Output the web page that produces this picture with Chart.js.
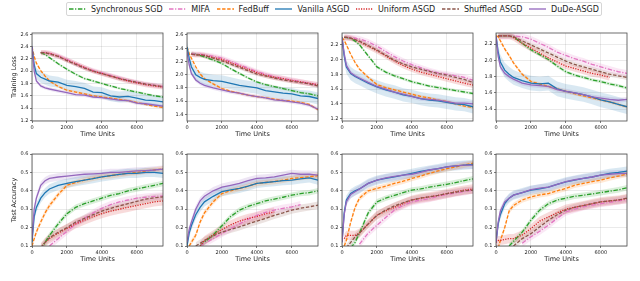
<!DOCTYPE html>
<html><head><meta charset="utf-8">
<script src="https://cdn.jsdelivr.net/npm/chart.js@4.4.1/dist/chart.umd.min.js"></script>
<style>
body{margin:0;background:#fff;width:640px;height:281px;overflow:hidden;position:relative;font-family:"DejaVu Sans",sans-serif;}
canvas{position:absolute;}
#legend{position:absolute;left:66px;top:2px;width:536px;height:14px;border:1px solid #d6d6d6;border-radius:2px;box-sizing:border-box;display:flex;justify-content:space-between;align-items:center;padding:0 2px;font-size:8px;color:#222;}
.item{display:flex;align-items:center;white-space:nowrap}
.item svg{margin-right:5px}
</style></head><body>
<div id="legend"></div>
<script>
// ---------- data ----------
const timeUnits = [0,125,250,500,750,1000,1500,2000,2500,3000,3500,4000,4500,5000,5500,6000,6500,7000,7500];
const methods = ['Synchronous SGD','MIFA','FedBuff','Vanilla ASGD','Uniform ASGD','Shuffled ASGD','DuDe-ASGD'];
const xTickValues = [0,2000,4000,6000];
const lossTicks1 = [1.2,1.4,1.6,1.8,2.0,2.2,2.4,2.6];
const lossTicks2 = [1.4,1.6,1.8,2.0,2.2,2.4,2.6];
const lossTicks3 = [1.2,1.4,1.6,1.8,2.0,2.2];
const lossTicks4 = [1.4,1.6,1.8,2.0,2.2];
const accTicks = [0.1,0.2,0.3,0.4,0.5,0.6];
const lossLimits = [[1.19,2.62],[1.30,2.63],[1.167,2.36],[1.255,2.336]];
const accLimits = [0.1,0.6];

// rows: Synchronous SGD, MIFA, FedBuff, Vanilla ASGD, Uniform ASGD, Shuffled ASGD, DuDe-ASGD
const loss1 = [
 [null,null,null,2.30,2.27,2.22,2.12,2.03,1.95,1.88,1.84,1.80,1.76,1.72,1.69,1.66,1.63,1.60,1.58],
 [null,null,null,2.30,2.30,2.29,2.25,2.19,2.12,2.06,2.01,1.97,1.93,1.89,1.85,1.82,1.79,1.77,1.75],
 [2.40,2.24,2.13,2.01,1.92,1.84,1.75,1.69,1.66,1.63,1.60,1.58,1.56,1.54,1.52,1.49,1.46,1.43,1.41],
 [2.40,2.10,1.96,1.90,1.87,1.84,1.82,1.77,1.75,1.72,1.66,1.65,1.60,1.58,1.59,1.56,1.53,1.52,1.50],
 [null,null,null,2.30,2.30,2.29,2.24,2.18,2.12,2.06,2.00,1.96,1.92,1.88,1.84,1.81,1.78,1.76,1.74],
 [null,null,null,2.30,2.30,2.28,2.24,2.17,2.11,2.05,2.00,1.96,1.92,1.88,1.85,1.82,1.79,1.77,1.75],
 [2.40,2.00,1.84,1.76,1.73,1.71,1.68,1.65,1.62,1.61,1.58,1.57,1.55,1.53,1.52,1.48,1.47,1.45,1.43]
];
const loss2 = [
 [null,null,2.32,2.31,2.29,2.27,2.22,2.17,2.09,2.02,1.95,1.89,1.85,1.82,1.79,1.76,1.73,1.71,1.68],
 [null,null,2.32,2.31,2.31,2.30,2.28,2.25,2.20,2.15,2.10,2.045,2.01,1.97,1.945,1.92,1.895,1.87,1.845],
 [2.42,2.32,2.25,2.12,2.01,1.94,1.86,1.79,1.75,1.72,1.69,1.67,1.65,1.63,1.61,1.60,1.58,1.55,1.47],
 [2.42,2.25,2.12,2.00,1.96,1.93,1.91,1.90,1.87,1.84,1.82,1.80,1.76,1.74,1.72,1.71,1.68,1.67,1.64],
 [null,null,2.31,2.30,2.30,2.29,2.26,2.23,2.18,2.13,2.08,2.03,1.99,1.96,1.94,1.91,1.89,1.87,1.85],
 [null,null,2.31,2.30,2.30,2.29,2.25,2.21,2.16,2.11,2.06,2.01,1.98,1.95,1.92,1.90,1.88,1.86,1.83],
 [2.35,2.15,2.02,1.92,1.87,1.84,1.80,1.77,1.74,1.72,1.69,1.67,1.65,1.62,1.61,1.59,1.57,1.54,1.48]
];
const loss3 = [
 [null,2.30,2.30,2.29,2.25,2.20,2.05,1.90,1.83,1.78,1.74,1.70,1.67,1.64,1.62,1.60,1.58,1.56,1.54],
 [null,2.30,2.30,2.30,2.29,2.28,2.24,2.18,2.11,2.04,1.98,1.93,1.89,1.85,1.82,1.80,1.78,1.76,1.72],
 [2.30,2.26,2.20,2.07,1.96,1.87,1.76,1.66,1.62,1.59,1.56,1.53,1.50,1.48,1.45,1.43,1.40,1.37,1.35],
 [2.30,2.05,1.90,1.81,1.77,1.74,1.68,1.63,1.59,1.56,1.52,1.50,1.47,1.45,1.44,1.42,1.40,1.39,1.36],
 [null,2.30,2.30,2.29,2.27,2.24,2.18,2.12,2.05,1.98,1.92,1.87,1.83,1.80,1.77,1.74,1.71,1.68,1.655],
 [null,2.30,2.30,2.29,2.27,2.25,2.19,2.13,2.06,1.99,1.94,1.90,1.87,1.84,1.81,1.79,1.76,1.73,1.69],
 [2.30,2.08,1.92,1.82,1.78,1.75,1.69,1.635,1.60,1.56,1.53,1.50,1.47,1.46,1.45,1.43,1.41,1.41,1.40]
];
const loss4 = [
 [null,2.30,2.30,2.30,2.30,2.29,2.21,2.13,2.07,2.01,1.93,1.86,1.82,1.79,1.76,1.74,1.71,1.69,1.66],
 [null,2.30,2.30,2.30,2.30,2.30,2.29,2.26,2.21,2.16,2.10,2.06,2.02,1.99,1.95,1.92,1.89,1.86,1.84],
 [2.30,2.29,2.24,2.14,2.06,1.97,1.83,1.74,1.71,1.68,1.65,1.62,1.59,1.565,1.54,1.515,1.49,1.46,1.425],
 [2.30,2.10,1.98,1.88,1.83,1.79,1.75,1.72,1.71,1.72,1.65,1.62,1.60,1.58,1.55,1.515,1.49,1.46,1.43],
 [null,2.30,2.30,2.30,2.30,2.28,2.21,2.15,2.09,2.03,1.98,1.93,1.90,1.87,1.84,1.82,1.79,null,null],
 [null,2.30,2.30,2.30,2.30,2.29,2.24,2.19,2.14,2.09,2.04,1.99,1.95,1.92,1.89,1.86,1.83,1.81,1.79],
 [2.30,2.05,1.92,1.84,1.80,1.77,1.72,1.70,1.69,1.68,1.64,1.62,1.60,1.58,1.55,1.535,1.52,1.51,1.52]
];
const acc1 = [
 [null,null,null,0.08,0.12,0.158,0.22,0.276,0.31,0.33,0.345,0.36,0.375,0.385,0.40,0.41,0.42,0.43,0.44],
 [null,null,null,null,null,0.10,0.14,0.18,0.22,0.25,0.28,0.305,0.325,0.34,0.35,0.36,0.365,0.37,0.372],
 [0.10,0.14,0.176,0.23,0.28,0.32,0.38,0.43,0.445,0.458,0.468,0.476,0.482,0.489,0.495,0.50,0.507,0.513,0.52],
 [0.12,0.26,0.31,0.36,0.39,0.41,0.43,0.44,0.45,0.458,0.466,0.476,0.482,0.489,0.495,0.495,0.50,0.50,0.495],
 [null,null,null,0.09,0.12,0.14,0.17,0.195,0.22,0.24,0.26,0.276,0.29,0.30,0.31,0.32,0.33,0.34,0.345],
 [null,null,null,0.09,0.12,0.145,0.175,0.20,0.23,0.25,0.27,0.29,0.305,0.318,0.33,0.343,0.355,0.362,0.367],
 [0.14,0.30,0.36,0.43,0.455,0.467,0.475,0.48,0.485,0.49,0.492,0.495,0.50,0.50,0.504,0.508,0.51,0.513,0.518]
];
const acc2 = [
 [null,null,null,null,0.10,0.12,0.16,0.21,0.26,0.295,0.315,0.33,0.345,0.355,0.365,0.376,0.385,0.39,0.40],
 [null,null,null,null,0.10,0.115,0.14,0.167,0.195,0.22,0.245,0.267,0.283,0.295,0.305,0.313,0.325,null,null],
 [null,0.10,0.12,0.158,0.23,0.28,0.34,0.385,0.40,0.413,0.425,0.44,0.445,0.45,0.458,0.467,0.472,0.476,0.482],
 [0.10,0.17,0.21,0.27,0.31,0.34,0.37,0.395,0.405,0.413,0.425,0.44,0.445,0.45,0.455,0.458,0.465,0.47,0.458],
 [null,null,null,null,0.10,0.13,0.16,0.19,0.215,0.235,0.25,0.26,0.275,0.285,null,null,null,null,null],
 [null,null,null,0.10,0.115,0.13,0.155,0.176,0.19,0.204,0.22,0.235,0.25,0.267,0.28,0.295,0.305,0.313,0.322],
 [0.12,0.19,0.23,0.30,0.345,0.37,0.40,0.42,0.43,0.44,0.455,0.467,0.47,0.476,0.485,0.495,0.49,0.49,0.485]
];
const acc3 = [
 [null,null,null,0.09,0.12,0.17,0.28,0.34,0.36,0.375,0.39,0.404,0.41,0.42,0.428,0.435,0.445,0.455,0.465],
 [null,null,null,null,null,0.11,0.17,0.213,0.255,0.295,0.32,0.34,0.35,0.358,0.37,0.38,0.388,0.395,0.404],
 [null,0.10,0.13,0.23,0.31,0.36,0.40,0.413,0.425,0.44,0.452,0.467,0.48,0.495,0.508,0.52,0.53,0.54,0.55],
 [0.12,0.28,0.35,0.385,0.40,0.41,0.44,0.458,0.468,0.476,0.485,0.495,0.505,0.513,0.52,0.53,0.535,0.54,0.544],
 [null,0.14,0.158,0.158,0.158,0.17,0.22,0.267,0.29,0.31,0.33,0.35,0.36,0.367,0.375,0.385,0.395,0.404,0.41],
 [null,null,0.09,0.12,0.15,0.17,0.22,0.267,0.295,0.318,0.335,0.35,0.36,0.367,0.375,0.385,0.392,0.40,0.404],
 [0.12,0.27,0.34,0.38,0.395,0.41,0.44,0.458,0.47,0.478,0.485,0.49,0.50,0.513,0.52,0.53,0.535,0.54,0.54]
];
const acc4 = [
 [null,null,null,null,0.10,0.125,0.175,0.24,0.295,0.33,0.35,0.36,0.37,0.376,0.383,0.39,0.398,0.405,0.416],
 [null,null,null,null,null,null,0.115,0.15,0.18,0.213,0.25,0.285,0.30,0.313,0.322,0.33,0.337,0.345,0.353],
 [null,0.09,0.13,0.20,0.29,0.32,0.35,0.367,0.378,0.385,0.40,0.413,0.43,0.44,0.45,0.458,0.47,0.48,0.49],
 [0.12,0.22,0.27,0.33,0.36,0.376,0.39,0.404,0.41,0.42,0.435,0.449,0.458,0.467,0.475,0.485,0.495,0.50,0.507],
 [0.12,0.13,0.13,0.135,0.14,0.14,0.16,0.195,0.235,0.258,0.28,0.30,0.31,0.32,0.33,0.34,0.345,0.35,0.358],
 [null,null,null,null,null,0.10,0.14,0.167,0.204,0.24,0.27,0.295,0.31,0.32,0.33,0.34,0.345,0.35,0.36],
 [0.12,0.23,0.29,0.34,0.36,0.376,0.39,0.406,0.415,0.42,0.435,0.45,0.46,0.468,0.475,0.485,0.49,0.493,0.495]
];
// spread (std) of each method's band
const lossStd = [0.02,0.04,0.02,0.09,0.04,0.03,0.03];
const accStd = [0.015,0.02,0.015,0.025,0.025,0.02,0.02];

// ---------- styles ----------
const FONT = '"DejaVu Sans", sans-serif';
const styles = [
 {color:'#2ca02c', rgb:'44,160,44', dash:[4.5,1.6,1.2,1.6]},
 {color:'#e377c2', rgb:'227,119,194', dash:[4.5,1.6,1.2,1.6]},
 {color:'#ff7f0e', rgb:'255,127,14', dash:[3.4,1.7]},
 {color:'#1f77b4', rgb:'31,119,180', dash:[]},
 {color:'#d62728', rgb:'214,39,40', dash:[1.2,1.3]},
 {color:'#8c564b', rgb:'140,86,75', dash:[3.4,1.7]},
 {color:'#9467bd', rgb:'148,103,189', dash:[]}
];

// legend
const leg = document.getElementById('legend');
methods.forEach((m,i)=>{
  const st = styles[i];
  const d = document.createElement('div'); d.className='item';
  d.innerHTML = `<svg width="17" height="8"><line x1="0" y1="4" x2="17" y2="4" stroke="${st.color}" stroke-width="1.3" ${st.dash.length?`stroke-dasharray="${st.dash.join(',')}"`:''}/></svg><span>${m}</span>`;
  leg.appendChild(d);
});

const colLeft = [32, 187, 342, 496];
const plotW = 131;
const rowTop = [33, 154];
const rowH = [88, 92];

const framePlugin = {
  id:'frame',
  afterDatasetsDraw(chart){
    const {ctx, chartArea:a} = chart;
    ctx.save(); ctx.strokeStyle='#4a4a4a'; ctx.lineWidth=0.8;
    ctx.strokeRect(a.left, a.top, a.right-a.left, a.bottom-a.top);
    ctx.restore();
  }
};

function makePanel(row, col, series, std, yTicks, yMin, yMax, yTitle){
  const L = col===0 ? 32 : 28;
  const T = 5, R = 5, B = 22;
  const cv = document.createElement('canvas');
  const w = L + plotW + R, h = T + rowH[row] + B;
  cv.width = w; cv.height = h;
  cv.style.left = (colLeft[col]-L)+'px';
  cv.style.top = (rowTop[row]-T)+'px';
  cv.style.width = w+'px'; cv.style.height = h+'px';
  document.body.appendChild(cv);

  const datasets = [];
  series.forEach((vals,i)=>{
    const up = vals.map(v=> v==null?null: v+std[i]);
    const lo = vals.map(v=> v==null?null: v-std[i]);
    datasets.push({data: timeUnits.map((x,k)=>({x, y: up[k]})), borderWidth:0, pointRadius:0, fill:false, order:100});
    datasets.push({data: timeUnits.map((x,k)=>({x, y: lo[k]})), borderWidth:0, pointRadius:0, fill:'-1',
      backgroundColor:`rgba(${styles[i].rgb},0.17)`, order:100});
  });
  series.forEach((vals,i)=>{
    datasets.push({label: methods[i], data: timeUnits.map((x,k)=>({x, y: vals[k]})),
      borderColor: styles[i].color, borderWidth:1.3, borderDash: styles[i].dash,
      pointRadius:0, tension:0, fill:false, spanGaps:false, order: 7-i});
  });

  new Chart(cv, {
    type:'line',
    data:{datasets},
    plugins:[framePlugin],
    options:{
      responsive:false, animation:false, devicePixelRatio:1,
      layout:{padding:{top:T, right:R, left:0, bottom:0}},
      plugins:{legend:{display:false}, tooltip:{enabled:false}, filler:{drawTime:'beforeDatasetsDraw'}},
      scales:{
        x:{type:'linear', min:0, max:7500,
          afterBuildTicks: s=>{ s.ticks = xTickValues.map(v=>({value:v})); },
          afterFit: s=>{ s.height = B; },
          ticks:{font:{size:5, family:FONT}, color:'#222', padding:1.5, maxRotation:0, autoSkip:false, callback:v=>String(v)},
          grid:{color:'rgba(0,0,0,0.12)', lineWidth:0.7, tickLength:2, tickColor:'#444'},
          border:{display:false},
          title:{display:true, text:'Time Units', font:{size:6.5, family:FONT}, color:'#222', padding:{top:0, bottom:4.5}}
        },
        y:{type:'linear', min:yMin, max:yMax,
          afterBuildTicks: s=>{ s.ticks = yTicks.map(v=>({value:v})); },
          afterFit: s=>{ s.width = L; },
          ticks:{font:{size:5, family:FONT}, color:'#222', padding:1.5, autoSkip:false, callback:v=>Number(v).toFixed(1)},
          grid:{color:'rgba(0,0,0,0.12)', lineWidth:0.7, tickLength:2, tickColor:'#444'},
          border:{display:false},
          title: yTitle ? {display:true, text:yTitle, font:{size:6.5, family:FONT}, color:'#222', padding:{top:10, bottom:0}} : {display:false}
        }
      }
    }
  });
}

const lossPanels = [loss1, loss2, loss3, loss4];
const lossTickSets = [lossTicks1, lossTicks2, lossTicks3, lossTicks4];
const accPanels = [acc1, acc2, acc3, acc4];
for (let c=0;c<4;c++){
  makePanel(0, c, lossPanels[c], lossStd, lossTickSets[c], lossLimits[c][0], lossLimits[c][1], c===0?'Training Loss':null);
  makePanel(1, c, accPanels[c], accStd, accTicks, accLimits[0], accLimits[1], c===0?'Test Accuracy':null);
}
</script>
</body></html>
